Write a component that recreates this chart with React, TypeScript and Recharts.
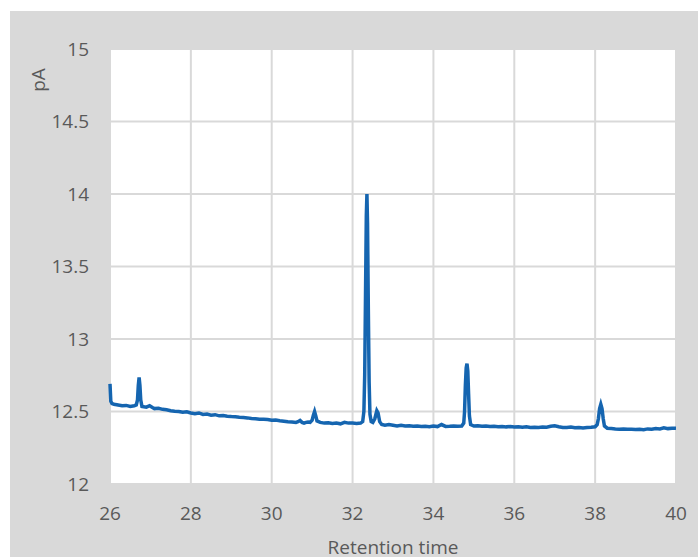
import React from 'react';
import { LineChart, Line, XAxis, YAxis, CartesianGrid } from 'recharts';

// retention time (min) and detector signal (pA)
const times = [
  26.0, 26.02, 26.05, 26.1, 26.2, 26.3, 26.4, 26.5, 26.6, 26.65,
  26.68, 26.7, 26.72, 26.74, 26.76, 26.79, 26.9, 26.98, 27.05, 27.1,
  27.2, 27.3, 27.4, 27.5, 27.6, 27.7, 27.8, 27.9, 28.0, 28.1,
  28.2, 28.3, 28.4, 28.5, 28.6, 28.7, 28.8, 28.9, 29.0, 29.1,
  29.2, 29.3, 29.4, 29.5, 29.6, 29.7, 29.8, 29.9, 30.0, 30.1,
  30.2, 30.3, 30.4, 30.5, 30.6, 30.65, 30.7, 30.75, 30.8, 30.85,
  30.9, 30.95, 31.0, 31.03, 31.06, 31.09, 31.12, 31.2, 31.3, 31.4,
  31.5, 31.6, 31.7, 31.8, 31.9, 32.0, 32.1, 32.2, 32.25, 32.28,
  32.3, 32.32, 32.34, 32.355, 32.37, 32.39, 32.41, 32.43, 32.46, 32.5,
  32.55, 32.6, 32.63, 32.67, 32.72, 32.8, 32.9, 33.0, 33.1, 33.2,
  33.3, 33.4, 33.5, 33.6, 33.7, 33.8, 33.9, 34.0, 34.1, 34.2,
  34.3, 34.4, 34.5, 34.6, 34.7, 34.75, 34.77, 34.79, 34.81, 34.83,
  34.85, 34.87, 34.89, 34.92, 35.0, 35.1, 35.2, 35.3, 35.4, 35.5,
  35.6, 35.7, 35.8, 35.9, 36.0, 36.1, 36.2, 36.3, 36.4, 36.5,
  36.6, 36.7, 36.8, 36.9, 37.0, 37.1, 37.2, 37.3, 37.4, 37.5,
  37.6, 37.7, 37.8, 37.9, 38.0, 38.05, 38.08, 38.11, 38.14, 38.17,
  38.2, 38.23, 38.3, 38.4, 38.5, 38.6, 38.7, 38.8, 38.9, 39.0,
  39.1, 39.2, 39.3, 39.4, 39.5, 39.6, 39.7, 39.8, 39.9, 40.0,
];

const signal = [
  12.69, 12.57, 12.555, 12.55, 12.545, 12.54, 12.542, 12.535, 12.54, 12.545,
  12.58, 12.68, 12.735, 12.68, 12.58, 12.535, 12.53, 12.54, 12.528, 12.52,
  12.522, 12.515, 12.512, 12.505, 12.502, 12.5, 12.495, 12.498, 12.49, 12.485,
  12.49, 12.48, 12.482, 12.475, 12.478, 12.47, 12.472, 12.468, 12.465, 12.463,
  12.46, 12.458, 12.456, 12.452, 12.45, 12.447, 12.446, 12.445, 12.44, 12.441,
  12.436, 12.433, 12.43, 12.428, 12.425, 12.43, 12.438, 12.425, 12.42, 12.425,
  12.428, 12.425, 12.44, 12.475, 12.5, 12.47, 12.435, 12.425, 12.42, 12.422,
  12.418, 12.42, 12.415, 12.425, 12.42, 12.42, 12.418, 12.42, 12.43, 12.5,
  12.75, 13.3, 13.85, 14.0, 13.8, 13.2, 12.7, 12.48, 12.43, 12.425,
  12.45, 12.505, 12.49, 12.43, 12.41, 12.405, 12.41, 12.405, 12.4, 12.405,
  12.4, 12.402, 12.398, 12.4, 12.396, 12.398, 12.395, 12.4, 12.396, 12.41,
  12.397, 12.398, 12.4, 12.398, 12.4, 12.42, 12.5, 12.68, 12.8, 12.83,
  12.78, 12.62, 12.47, 12.41, 12.4, 12.402, 12.398, 12.4, 12.396, 12.398,
  12.395, 12.397, 12.394, 12.396, 12.393, 12.395, 12.392, 12.394, 12.39, 12.392,
  12.39, 12.393, 12.392, 12.398, 12.402, 12.395, 12.39, 12.39, 12.393, 12.388,
  12.39, 12.387, 12.39, 12.392, 12.395, 12.41, 12.45, 12.52, 12.55, 12.52,
  12.45, 12.4, 12.385, 12.383, 12.38, 12.378, 12.38, 12.377, 12.378, 12.376,
  12.378, 12.375, 12.38, 12.378, 12.382, 12.38, 12.388, 12.382, 12.385, 12.384,
];

const xTicks = [26, 28, 30, 32, 34, 36, 38, 40];
const yTicks = [12, 12.5, 13, 13.5, 14, 14.5, 15];

const data = times.map((t, i) => ({ t, pA: signal[i] }));

const FONT = '"Open Sans", "Noto Sans", sans-serif';
const tickStyle = { fill: '#595959', fontSize: 19, fontFamily: FONT };

// rotated unit label, placed near the top of the value axis
const UnitLabel = () => (
  <text
    x={28}
    y={69}
    transform="rotate(-90, 28, 69)"
    textAnchor="middle"
    dominantBaseline="central"
    fill="#595959"
    fontSize={19}
    fontFamily={FONT}
  >
    pA
  </text>
);

const App: React.FC = () => {
  return (
    <div
      style={{
        position: 'absolute',
        left: 10,
        top: 11,
        width: 688,
        height: 546,
        background: '#d9d9d9',
        overflow: 'hidden',
      }}
    >
      <LineChart
        width={688}
        height={546}
        data={data}
        margin={{ top: 38, right: 22, bottom: 0, left: 40 }}
      >
        <CartesianGrid stroke="#d9d9d9" strokeWidth={2} fill="#ffffff" />
        <XAxis
          dataKey="t"
          type="number"
          domain={[26, 40]}
          ticks={xTicks}
          axisLine={false}
          tickLine={false}
          tickSize={0}
          tickMargin={23}
          tick={tickStyle}
          height={73}
          interval={0}
          label={{
            value: 'Retention time',
            position: 'insideBottom',
            offset: 3,
            style: { fill: '#595959', fontSize: 19, fontFamily: FONT },
          }}
        />
        <YAxis
          type="number"
          domain={[12, 15]}
          ticks={yTicks}
          axisLine={false}
          tickLine={false}
          tickSize={0}
          tickMargin={21}
          tick={tickStyle}
          width={60}
          interval={0}
          label={<UnitLabel />}
        />
        <Line
          type="linear"
          dataKey="pA"
          stroke="#1565b0"
          strokeWidth={3.5}
          dot={false}
          isAnimationActive={false}
        />
      </LineChart>
    </div>
  );
};

export default App;
